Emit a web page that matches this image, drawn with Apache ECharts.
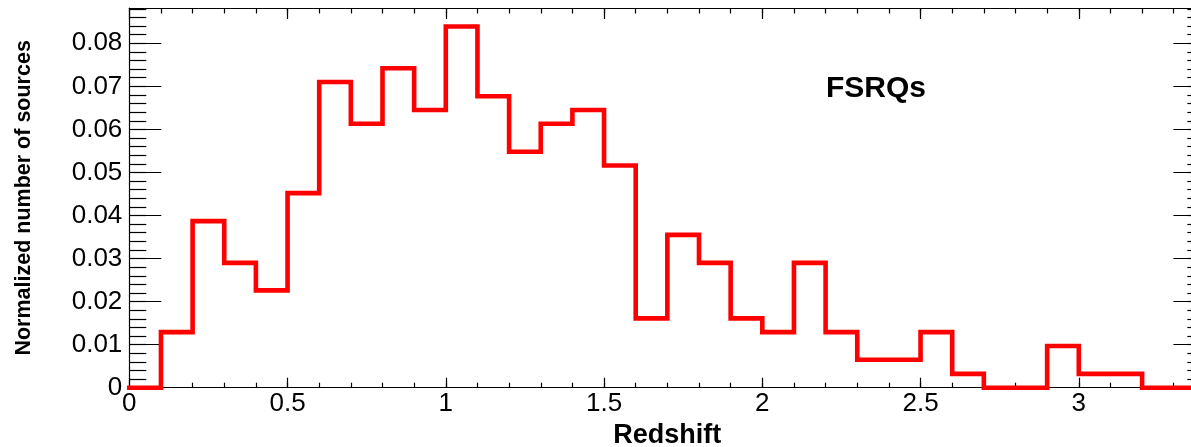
<!DOCTYPE html>
<html>
<head>
<meta charset="utf-8">
<title>FSRQs redshift distribution</title>
<script src="https://cdn.jsdelivr.net/npm/echarts@6/dist/echarts.min.js"></script>
<style>
  html, body { margin: 0; padding: 0; background: #ffffff; }
  #chart { width: 1191px; height: 447px; }
</style>
</head>
<body>
<div id="chart"></div>
<script>
// Histogram bins: lower edge of each redshift bin (bin width 0.1)
const binLow = [0.0, 0.1, 0.2, 0.3, 0.4, 0.5, 0.6, 0.7, 0.8, 0.9,
                1.0, 1.1, 1.2, 1.3, 1.4, 1.5, 1.6, 1.7, 1.8, 1.9,
                2.0, 2.1, 2.2, 2.3, 2.4, 2.5, 2.6, 2.7, 2.8, 2.9,
                3.0, 3.1, 3.2, 3.3];
const binUpperEnd = 3.4;

// Normalized number of sources in each bin
const fraction = [0.0000, 0.0129, 0.0387, 0.0290, 0.0226, 0.0452, 0.0710, 0.0613, 0.0742, 0.0645,
                  0.0839, 0.0677, 0.0548, 0.0613, 0.0645, 0.0516, 0.0161, 0.0355, 0.0290, 0.0161,
                  0.0129, 0.0290, 0.0129, 0.0065, 0.0065, 0.0129, 0.0032, 0.0000, 0.0000, 0.0097,
                  0.0032, 0.0032, 0.0000, 0.0000];

// Axis ticks and labels
const xTicks = [0, 0.5, 1, 1.5, 2, 2.5, 3];
const xTickLabels = ['0', '0.5', '1', '1.5', '2', '2.5', '3'];
const yTicks = [0, 0.01, 0.02, 0.03, 0.04, 0.05, 0.06, 0.07, 0.08];
const yTickLabels = ['0', '0.01', '0.02', '0.03', '0.04', '0.05', '0.06', '0.07', '0.08'];

const xMin = 0, xMax = 3.4;
const yMin = 0, yMax = 0.0882;

// Minor tick positions: every 0.1 in x, every 0.002 in y
const xMinor = [];
for (let i = 1; i * 0.1 < xMax - 1e-9; i++) xMinor.push(+(i * 0.1).toFixed(4));
const yMinor = [];
for (let i = 1; i * 0.002 < yMax - 1e-9; i++) yMinor.push(+(i * 0.002).toFixed(4));

// Step outline points: each bin's lower edge with its value, closed at the last upper edge
const stepPoints = binLow.map((x, i) => [x, fraction[i]]);
stepPoints.push([binUpperEnd, fraction[fraction.length - 1]]);

const FONT = "'Liberation Sans', Arial, Helvetica, sans-serif";
const AXIS_COLOR = '#000000';

function labelFor(ticks, labels) {
  return function (v) {
    for (let i = 0; i < ticks.length; i++) {
      if (Math.abs(ticks[i] - v) < 1e-9) return labels[i];
    }
    return '';
  };
}

function xAxisDef(position, tickValues, tickLen, withLine, withLabels) {
  const ax = {
    type: 'value', position: position, min: xMin, max: xMax,
    axisLine: { show: withLine, onZero: false, lineStyle: { color: AXIS_COLOR, width: 1.2 } },
    axisTick: { show: true, inside: true, length: tickLen, customValues: tickValues,
                lineStyle: { color: AXIS_COLOR, width: 1.2 } },
    axisLabel: { show: false },
    splitLine: { show: false }
  };
  if (withLabels) {
    ax.axisLabel = {
      show: true, customValues: xTicks, formatter: labelFor(xTicks, xTickLabels),
      fontSize: 26, fontFamily: FONT, color: '#000', margin: 3
    };
    ax.name = 'Redshift';
    ax.nameLocation = 'middle';
    ax.nameGap = 30;
    ax.nameTextStyle = { fontSize: 27, fontWeight: 'bold', fontFamily: FONT, color: '#000' };
  }
  return ax;
}

function yAxisDef(position, tickValues, tickLen, withLine, withLabels) {
  const ax = {
    type: 'value', position: position, min: yMin, max: yMax,
    axisLine: { show: withLine, onZero: false, lineStyle: { color: AXIS_COLOR, width: 1.2 } },
    axisTick: { show: true, inside: true, length: tickLen, customValues: tickValues,
                lineStyle: { color: AXIS_COLOR, width: 1.2 } },
    axisLabel: { show: false },
    splitLine: { show: false }
  };
  if (withLabels) {
    ax.axisLabel = {
      show: true, customValues: yTicks, formatter: labelFor(yTicks, yTickLabels),
      fontSize: 26, fontFamily: FONT, color: '#000', margin: 7
    };
    ax.name = 'Normalized number of sources';
    ax.nameLocation = 'middle';
    ax.nameGap = 94;
    ax.nameTextStyle = { fontSize: 21.5, fontWeight: 'bold', fontFamily: FONT, color: '#000' };
  }
  return ax;
}

const chart = echarts.init(document.getElementById('chart'), null, { renderer: 'canvas' });

chart.setOption({
  animation: false,
  backgroundColor: '#ffffff',
  grid: { left: 129.3, top: 8, width: 1076.1, height: 379.7, containLabel: false, outerBoundsMode: 'none' },
  xAxis: [
    xAxisDef('bottom', xTicks, 10, true, true),
    xAxisDef('bottom', xMinor, 5, false, false),
    xAxisDef('top', xTicks, 11, true, false),
    xAxisDef('top', xMinor, 5.5, false, false)
  ],
  yAxis: [
    yAxisDef('left', yTicks, 32, true, true),
    yAxisDef('left', yMinor, 17, false, false),
    yAxisDef('right', yTicks, 32, true, false),
    yAxisDef('right', yMinor, 18, false, false)
  ],
  graphic: [{
    type: 'text',
    left: 826,
    top: 74,
    style: { text: 'FSRQs', fontSize: 30, fontWeight: 'bold', fontFamily: FONT, fill: '#000' }
  }],
  series: [{
    type: 'line',
    name: 'FSRQs',
    xAxisIndex: 0,
    yAxisIndex: 0,
    step: 'end',
    data: stepPoints,
    showSymbol: false,
    symbol: 'none',
    clip: false,
    z: 5,
    lineStyle: { color: '#ff0000', width: 4.6, join: 'miter', cap: 'square' }
  }]
});
</script>
</body>
</html>
